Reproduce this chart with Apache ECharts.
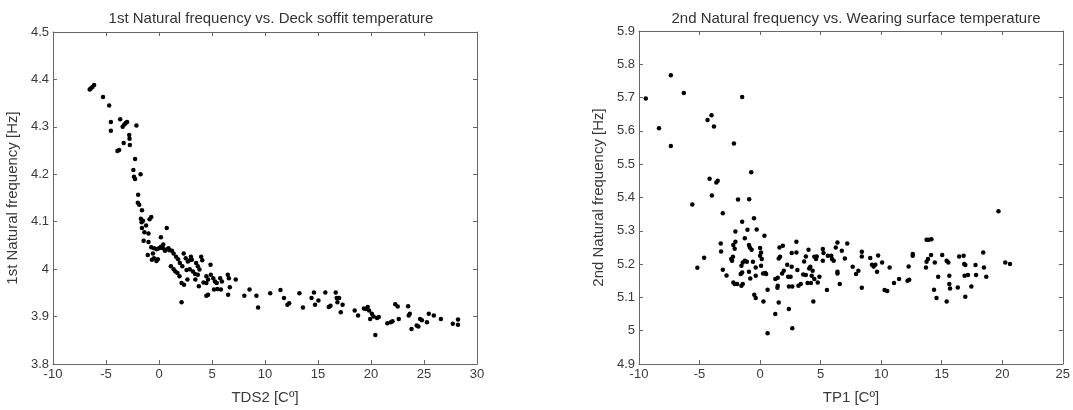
<!DOCTYPE html>
<html>
<head>
<meta charset="UTF-8">
<title>Natural frequency vs. temperature</title>
<style>
  html, body { margin: 0; padding: 0; background: #fff; }
  #chart { width: 1073px; height: 410px; }
</style>
</head>
<body>
<div id="chart"></div>
<script src="https://cdn.jsdelivr.net/npm/echarts@6/dist/echarts.min.js"></script>
<script>
// left panel: TDS2 [C] vs 1st natural frequency [Hz]
const tds2 = [
  -6.54, -6.44, -6.28, -6.12, -5.28, -4.70, -4.54, -4.54, -3.66, -3.43,
  -3.27, -3.14, -3.01, -3.33, -3.92, -3.76, -2.81, -2.78, -2.75, -2.13,
  -2.26, -1.74, -2.42, -2.36, -2.26, -1.97, -2.00, -1.87, -1.61, -1.71,
  -1.64, -1.61, -1.51, -0.89, -0.73, -1.38, -1.22, -0.99, -0.99, 0.73,
  -1.45, -1.06, -0.73, -0.57, -0.47, -0.21, 0.00, 0.18, 0.37, 0.57,
  0.76, 0.89, -0.67, -0.47, -0.24, -0.11, 0.18, 1.22, 1.38, 1.61,
  1.80, 1.97, 2.20, 1.12, 1.38, 1.54, 1.74, 1.93, 2.33, 2.52,
  2.72, 2.91, 3.01, 2.13, 2.36, 2.68, 3.50, 3.66, 3.82, 3.66,
  3.43, 3.76, 3.98, 4.08, 4.47, 4.47, 4.63, 4.86, 4.89, 5.12,
  5.28, 5.45, 5.77, 5.93, 4.47, 4.63, 5.19, 5.51, 5.84, 6.49,
  6.59, 6.68, 6.52, 7.24, 2.13, 8.05, 8.54, 9.19, 9.35, 10.49,
  11.46, 11.79, 12.11, 12.28, 13.25, 13.58, 14.39, 14.62, 14.72, 15.04,
  15.69, 16.02, 16.18, 16.67, 16.76, 16.83, 16.99, 17.15, 17.32, 18.46,
  18.78, 19.33, 19.50, 19.69, 19.82, 19.92, 20.08, 20.24, 20.41, 20.57,
  20.73, 21.54, 21.87, 22.03, 22.29, 22.52, 22.62, 23.50, 23.56, 23.66,
  23.82, 24.31, 24.47, 24.63, 24.80, 25.28, 25.45, 25.93, 26.59, 27.72,
  28.21, 28.21, 2.9, 3.2, 3.4, 2.6, 1.0, 0.4, 3.1, 4.2
];
const freq1 = [
  4.379, 4.381, 4.384, 4.388, 4.363, 4.345, 4.310, 4.292, 4.316, 4.300,
  4.305, 4.308, 4.310, 4.266, 4.249, 4.251, 4.283, 4.275, 4.262, 4.303,
  4.232, 4.200, 4.209, 4.195, 4.190, 4.157, 4.140, 4.136, 4.124, 4.106,
  4.099, 4.087, 4.102, 4.105, 4.110, 4.078, 4.092, 4.075, 4.057, 4.087,
  4.060, 4.030, 4.046, 4.033, 4.044, 4.042, 4.044, 4.047, 4.044, 4.039,
  4.042, 4.044, 4.020, 4.023, 4.017, 4.021, 4.067, 4.039, 4.033, 4.026,
  4.021, 4.013, 4.006, 4.006, 4.000, 3.995, 3.992, 3.985, 4.033, 4.023,
  4.016, 4.019, 4.026, 3.971, 3.967, 3.978, 4.013, 4.006, 3.999, 3.988,
  3.978, 3.964, 4.026, 4.019, 3.985, 3.971, 3.978, 4.009, 3.988, 3.981,
  3.974, 3.971, 3.981, 3.974, 3.944, 3.946, 3.957, 3.958, 3.957, 3.988,
  3.981, 3.962, 3.946, 3.978, 3.930, 3.944, 3.957, 3.944, 3.919, 3.949,
  3.956, 3.939, 3.925, 3.928, 3.949, 3.919, 3.939, 3.951, 3.925, 3.934,
  3.951, 3.920, 3.923, 3.951, 3.939, 3.930, 3.939, 3.909, 3.925, 3.913,
  3.902, 3.917, 3.916, 3.920, 3.913, 3.895, 3.906, 3.900, 3.861, 3.897,
  3.899, 3.886, 3.888, 3.890, 3.926, 3.921, 3.895, 3.922, 3.902, 3.906,
  3.874, 3.881, 3.879, 3.895, 3.892, 3.888, 3.906, 3.902, 3.895, 3.885,
  3.894, 3.883, 4.000, 3.995, 3.990, 3.998, 4.040, 4.052, 4.020, 3.972
];

// right panel: TP1 [C] vs 2nd natural frequency [Hz]
const tp1 = [
  -9.44, -8.35, -7.37, -7.37, -6.30, -5.60, -5.18, -4.62, -4.34, -4.01,
  -3.81, -4.17, -3.98, -3.61, -3.50, -3.08, -3.25, -3.22, -3.08, -2.77,
  -2.16, -1.48, -1.82, -1.48, -2.04, -2.04, -2.21, -2.10, -2.24, -2.32,
  -2.38, -2.21, -2.10, -1.90, -1.54, -1.43, -1.54, -1.43, -1.26, -1.09,
  -1.60, -1.48, -1.26, -1.04, -0.90, -0.73, -0.92, -0.84, -0.70, -0.92,
  -0.81, -0.50, -0.28, -0.59, -0.36, -0.36, -0.48, -0.36, 0.00, 0.08,
  0.00, 0.14, 0.08, 0.25, 0.42, 0.50, 0.36, 0.28, 0.62, 0.62,
  1.26, 1.46, 1.46, 1.43, 1.26, 1.54, 1.65, 1.60, 1.88, 1.54,
  1.82, 1.96, 2.24, 2.61, 2.32, 2.52, 2.38, 2.66, 2.38, 2.66,
  2.61, 3.00, 3.00, 3.08, 3.17, 3.36, 3.64, 3.78, 3.56, 3.78,
  4.00, 4.06, 4.15, 3.92, 4.20, 4.26, 4.34, 4.40, 4.48, 4.62,
  4.68, 4.48, 4.76, 4.90, 5.18, 5.24, 5.18, 5.52, 5.60, 5.88,
  5.94, 6.08, 6.25, 6.39, 6.39, 6.39, 6.58, 6.75, 7.00, 7.20,
  7.65, 7.93, 8.12, 8.40, 8.40, 8.40, 9.10, 9.24, 9.38, 9.52,
  9.66, 9.75, 10.08, 10.28, 10.50, 10.70, 11.06, 11.48, 12.18, 12.32,
  12.27, 12.61, 12.61, 13.75, 13.92, 14.15, 13.75, 13.87, 13.70, 14.12,
  14.43, 14.37, 14.57, 14.71, 15.04, 15.41, 15.55, 15.41, 15.63, 15.63,
  15.69, 16.33, 16.44, 16.81, 16.86, 16.95, 16.89, 17.17, 16.95, 17.45,
  17.79, 17.84, 18.43, 18.49, 18.68, 19.69, 20.25, 20.64
];
const freq2 = [
  5.697, 5.608, 5.767, 5.555, 5.714, 5.379, 5.189, 5.219, 5.633, 5.647,
  5.613, 5.456, 5.406, 5.445, 5.450, 5.353, 5.262, 5.238, 5.183, 5.166,
  5.562, 5.702, 5.394, 5.327, 5.298, 5.267, 5.257, 5.246, 5.222, 5.210,
  5.215, 5.145, 5.140, 5.140, 5.135, 5.140, 5.195, 5.205, 5.210, 5.207,
  5.170, 5.175, 5.278, 5.303, 5.395, 5.476, 5.257, 5.250, 5.243, 5.177,
  5.157, 5.338, 5.304, 5.207, 5.190, 5.165, 5.108, 5.098, 5.248, 5.235,
  5.225, 5.215, 5.195, 5.172, 5.173, 5.170, 5.285, 5.088, 5.123, 4.992,
  5.155, 5.159, 5.135, 5.129, 5.050, 5.217, 5.222, 5.250, 5.255, 5.085,
  5.172, 5.180, 5.198, 5.192, 5.162, 5.162, 5.133, 5.133, 5.065, 5.007,
  5.233, 5.267, 5.235, 5.182, 5.135, 5.140, 5.208, 5.223, 5.169, 5.167,
  5.243, 5.187, 5.192, 5.143, 5.143, 5.165, 5.180, 5.088, 5.222, 5.215,
  5.223, 5.155, 5.145, 5.162, 5.245, 5.233, 5.210, 5.122, 5.225, 5.225,
  5.215, 5.210, 5.250, 5.265, 5.177, 5.172, 5.140, 5.240, 5.217, 5.262,
  5.192, 5.170, 5.180, 5.237, 5.223, 5.129, 5.218, 5.198, 5.193, 5.198,
  5.177, 5.226, 5.205, 5.122, 5.119, 5.190, 5.143, 5.155, 5.150, 5.153,
  5.193, 5.230, 5.225, 5.273, 5.273, 5.275, 5.207, 5.215, 5.190, 5.227,
  5.205, 5.123, 5.098, 5.162, 5.227, 5.210, 5.205, 5.088, 5.165, 5.140,
  5.127, 5.130, 5.223, 5.225, 5.200, 5.197, 5.165, 5.167, 5.102, 5.133,
  5.197, 5.167, 5.235, 5.190, 5.162, 5.359, 5.205, 5.200
];

const xTicks1 = { min: -10, max: 30, interval: 5 };
const yTicks1 = { min: 3.8, max: 4.5, interval: 0.1 };
const xTicks2 = { min: -10, max: 25, interval: 5 };
const yTicks2 = { min: 4.9, max: 5.9, interval: 0.1 };

const chart = echarts.init(document.getElementById('chart'));

const font = 'Arial, "Liberation Sans", sans-serif';
const lineColor = '#666';
const textColor = '#3a3a3a';

function axis(ticks, opts) {
  return Object.assign({
    type: 'value',
    min: ticks.min,
    max: ticks.max,
    interval: ticks.interval,
    axisLine: { show: true, onZero: false, lineStyle: { color: lineColor, width: 1 } },
    axisTick: { show: true, inside: true, length: 4, lineStyle: { color: lineColor } },
    axisLabel: { show: true, color: textColor, fontSize: 13, fontFamily: font, margin: 4 },
    splitLine: { show: false },
    nameTextStyle: { color: textColor, fontSize: 15, fontFamily: font }
  }, opts);
}

function zip(xs, ys) {
  return xs.map((x, i) => [x, ys[i]]);
}

chart.setOption({
  animation: false,
  backgroundColor: '#fff',
  title: [
    { text: '1st Natural frequency vs. Deck soffit temperature', left: 266, top: 6, textAlign: 'center',
      textStyle: { color: '#333', fontSize: 15, fontWeight: 'normal', fontFamily: font } },
    { text: '2nd Natural frequency vs. Wearing surface temperature', left: 851, top: 6, textAlign: 'center',
      textStyle: { color: '#333', fontSize: 15, fontWeight: 'normal', fontFamily: font } }
  ],
  grid: [
    { left: 53, top: 32, width: 424, height: 333 },
    { left: 639, top: 31, width: 425, height: 334 }
  ],
  xAxis: [
    axis(xTicks1, { gridIndex: 0, position: 'bottom', name: 'TDS2 [Cº]', nameLocation: 'middle', nameGap: 26 }),
    axis(xTicks1, { gridIndex: 0, position: 'top', axisLabel: { show: false } }),
    axis(xTicks2, { gridIndex: 1, position: 'bottom', name: 'TP1 [Cº]', nameLocation: 'middle', nameGap: 26 }),
    axis(xTicks2, { gridIndex: 1, position: 'top', axisLabel: { show: false } })
  ],
  yAxis: [
    axis(yTicks1, { gridIndex: 0, position: 'left', name: '1st Natural frequency [Hz]', nameLocation: 'middle', nameGap: 33 }),
    axis(yTicks1, { gridIndex: 0, position: 'right', axisLabel: { show: false } }),
    axis(yTicks2, { gridIndex: 1, position: 'left', name: '2nd Natural frequency [Hz]', nameLocation: 'middle', nameGap: 33 }),
    axis(yTicks2, { gridIndex: 1, position: 'right', axisLabel: { show: false } })
  ],
  series: [
    { type: 'scatter', xAxisIndex: 0, yAxisIndex: 0, data: zip(tds2, freq1),
      symbol: 'circle', symbolSize: 4.5, itemStyle: { color: '#000', opacity: 1 } },
    { type: 'scatter', xAxisIndex: 2, yAxisIndex: 2, data: zip(tp1, freq2),
      symbol: 'circle', symbolSize: 4.5, itemStyle: { color: '#000', opacity: 1 } }
  ]
});
</script>
</body>
</html>
